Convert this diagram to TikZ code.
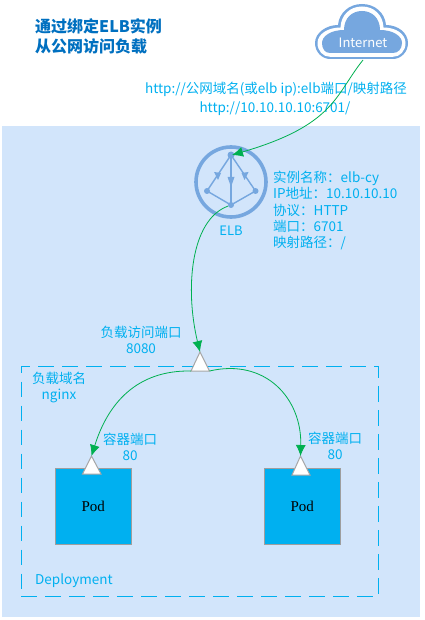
\documentclass[tikz,border=0pt]{standalone}
\usepackage{fontspec}
\setmainfont{Noto Sans CJK SC}
\newfontfamily\podfont{Liberation Serif}
\usetikzlibrary{arrows.meta,calc}
\definecolor{bgblue}{HTML}{D2E5FB}
\definecolor{cyanb}{HTML}{00B0F0}
\definecolor{iconb}{HTML}{76A7DF}
\definecolor{titleb}{HTML}{0070C0}
\definecolor{linkg}{HTML}{00B050}
\tikzset{
 x=1pt,y=-1pt,
 lbl/.style={text=cyanb,inner sep=0pt,font=\fontsize{13.5}{16}\selectfont,align=center},
 lblleft/.style={lbl,align=left,anchor=north west},
 port/.style={draw=black!35,fill=white,line width=1pt,line join=miter},
 pod/.style={draw=black!38,fill=cyanb,line width=1pt,minimum width=76pt,minimum height=76pt,inner sep=0pt,anchor=north west,text=black,font=\podfont\fontsize{15}{17}\selectfont},
 link/.style={draw=linkg,line width=.8pt,-{Latex[length=11pt,width=10pt]}},
 iconline/.style={draw=iconb,line width=1.4pt},
 icondot/.style={fill=iconb,draw=none,circle,minimum size=6pt,inner sep=0pt},
}
\begin{document}
\begin{tikzpicture}
\useasboundingbox (0,0) rectangle (424,620);
\fill[white] (0,0) rectangle (424,620);
\fill[bgblue] (2,126) rectangle (420,617);
% title
\node[text=titleb,font=\bfseries\fontsize{16}{20}\selectfont,align=left,anchor=north west,inner sep=0pt] (title) at (35,18) {通过绑定ELB实例\\从公网访问负载};
% cloud
\path[fill=iconb]
 (330,59) .. controls (322,59) and (315,52) .. (315,43)
 .. controls (315,33) and (326,25) .. (338,25)
 .. controls (339,13) and (349,4) .. (362,4)
 .. controls (375,4) and (385,13) .. (386,25)
 .. controls (398,25) and (408,33) .. (408,43)
 .. controls (408,52) and (401,59) .. (393,59) -- cycle;
\path[fill=white]
 (330,56.8) .. controls (323,56.8) and (317.5,51) .. (317.5,43)
 .. controls (317.5,34) and (328,27.5) .. (340.5,27.5)
 .. controls (341,15) and (350,6.5) .. (362,6.5)
 .. controls (374,6.5) and (383,15) .. (383.5,27.5)
 .. controls (396,27.5) and (405.5,34) .. (405.5,43)
 .. controls (405.5,51) and (400,56.8) .. (393,56.8) -- cycle;
\path[fill=iconb]
 (330,53) .. controls (325,53) and (322,49) .. (322,43)
 .. controls (322,36) and (331,30) .. (344,30)
 .. controls (344,18) and (352,11) .. (362,11)
 .. controls (372,11) and (380,18) .. (380,30)
 .. controls (393,30) and (402,36) .. (402,43)
 .. controls (402,49) and (398,53) .. (393,53) -- cycle;
\node[text=white,inner sep=0pt,font=\fontsize{13}{15}\selectfont] (inet) at (363,43) {Internet};
\coordinate (inetout) at (363,60);
% url labels
\node[lbl] (url1) at (276,89) {http://公网域名(或elb ip):elb端口/映射路径};
\node[lbl] (url2) at (275,109) {http://10.10.10.10:6701/};
% ELB icon
\node[draw=iconb,line width=3.6pt,circle,minimum size=70pt,inner sep=0pt] (elbring) at (231,182) {};
\node[icondot,minimum size=7pt] (et) at (231,155) {};
\node[icondot] (el) at (207,191) {};
\node[icondot] (er) at (255.5,191) {};
\node[icondot] (eb) at (231,205) {};
\draw[iconline] (et.center)--(el.center)--(eb.center)--(er.center)--(et.center);
\draw[iconline] (et.center)--(eb.center);
\fill[iconb] (231,187) -- (227.5,177) -- (234.5,177) -- cycle;
\fill[iconb] (221,173) -- (214,172) -- (218,180) -- cycle;
\fill[iconb] (241.5,173) -- (248.5,172) -- (244.5,180) -- cycle;
\node[text=cyanb,inner sep=0pt,font=\fontsize{13}{15}\selectfont] (elbl) at (231,231) {ELB};
\node[lblleft,font=\fontsize{13.5}{16.3}\selectfont] (elbinfo) at (273,171) {实例名称：elb-cy\\IP地址：10.10.10.10\\协议：HTTP\\端口：6701\\映射路径：/};
% dashed deployment
\node[draw=cyanb,line width=.8pt,dash pattern=on 15.5pt off 8.5pt,minimum width=357pt,minimum height=230.5pt,inner sep=0pt,anchor=north west] (deploy) at (20.8,365.6) {};
\node[lbl] (lbport) at (141,340) {负载访问端口\\8080};
\node[lbl] (domain) at (59,387) {负载域名\\nginx};
\node[lbl,anchor=west] (dep) at (35,581) {Deployment};
% pods
\node[pod] (pod1) at (54.8,467.5) {Pod};
\node[pod] (pod2) at (263.8,467.5) {Pod};
% ports
\draw[port] (200,352) coordinate (ptop) -- (209.5,371) coordinate (pr) -- (191,371) coordinate (pl) -- cycle;
\draw[port] (91.5,456) coordinate (p1) -- (101,474) -- (82.5,474) -- cycle;
\draw[port] (300.5,456) coordinate (p2) -- (310,475) -- (292,475) -- cycle;
\node[lbl] (c1) at (130,447) {容器端口\\80};
\node[lbl] (c2) at (335,446) {容器端口\\80};
% connectors
\draw[link] (inetout) .. controls (335,95) and (335,125) .. (232,155);
\draw[link] (eb) .. controls (190,220) and (185,290) .. (ptop);
\draw[link] (pl) .. controls (137,370) and (108,403) .. (p1);
\draw[link] (pr) .. controls (265,358) and (302,398) .. (p2);
\end{tikzpicture}
\end{document}
